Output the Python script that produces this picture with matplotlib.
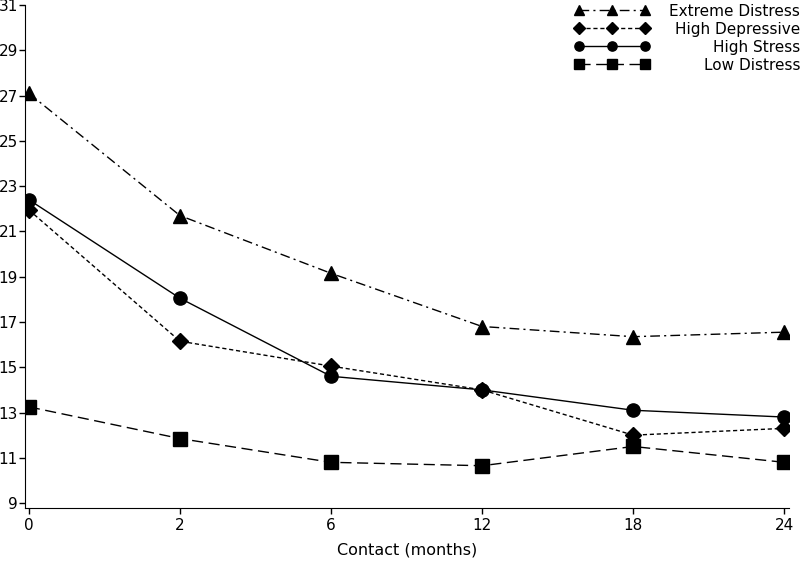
import matplotlib
matplotlib.use("Agg")
import matplotlib.pyplot as plt

# contact times (categorical, equally spaced on the axis)
months = ["0", "2", "6", "12", "18", "24"]

extreme_distress = [27.1, 21.7, 19.15, 16.8, 16.35, 16.55]
high_depressive = [21.95, 16.15, 15.05, 14.0, 12.0, 12.3]
high_stress = [22.4, 18.05, 14.6, 14.0, 13.1, 12.8]
low_distress = [13.25, 11.85, 10.8, 10.65, 11.5, 10.8]

y_ticks = list(range(9, 32, 2))

plt.rcParams['font.family'] = ['DejaVu Sans']

fig = plt.figure(figsize=(8, 5.62), dpi=100)
ax = fig.add_axes([0.031, 0.096, 0.955, 0.895])

x = list(range(len(months)))

ax.plot(x, extreme_distress, color="black", lw=1, ls=(0, (7, 3, 1.5, 3)),
        marker="^", ms=10, label="Extreme Distress")
ax.plot(x, high_depressive, color="black", lw=1, ls=(0, (3, 2)),
        marker="D", ms=8.5, label="High Depressive")
ax.plot(x, high_stress, color="black", lw=1, ls="-",
        marker="o", ms=9.5, label="High Stress")
ax.plot(x, low_distress, color="black", lw=1, ls=(0, (8, 4)),
        marker="s", ms=9.5, label="Low Distress")

ax.set_xlim(-0.027, 5.03)
ax.set_ylim(8.78, 31.0)
ax.set_xticks(x)
ax.set_xticklabels(months)
ax.set_yticks(y_ticks)
ax.tick_params(axis="both", labelsize=11, length=4, width=1, color="black")
ax.tick_params(axis="x", pad=3)
ax.tick_params(axis="y", pad=1)
ax.spines["top"].set_visible(False)
ax.spines["right"].set_visible(False)
ax.set_xlabel("Contact (months)", fontsize=11.5, labelpad=7)

leg = ax.legend(loc="upper right", bbox_to_anchor=(1.023, 1.015), frameon=False,
                numpoints=3, markerscale=0.7, handlelength=4.9, handletextpad=1.3,
                fontsize=11, labelspacing=0.2, borderaxespad=0.0)

# right-align the legend text by shifting each label by its missing width
fig.canvas.draw()
widths = [t.get_window_extent().width for t in leg.get_texts()]
shift = max(widths)
for t, w in zip(leg.get_texts(), widths):
    t.set_position((shift - w, 0))

fig.savefig("out.png", dpi=100)
